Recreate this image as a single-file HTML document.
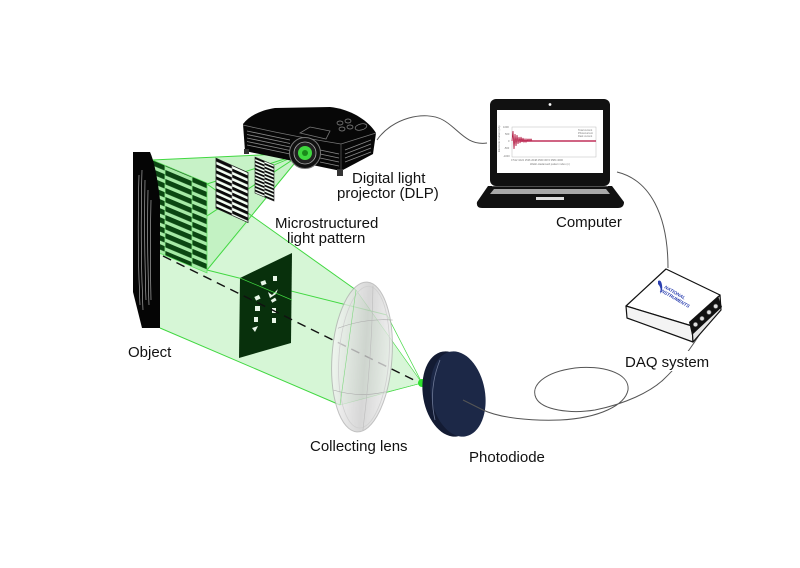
<!DOCTYPE html>
<html><head><meta charset="utf-8">
<style>
html,body{margin:0;padding:0;background:#fff;}
svg{display:block;}
text{font-family:"Liberation Sans",Arial,sans-serif;fill:#111;}
</style></head><body>
<svg width="800" height="568" viewBox="0 0 800 568" xmlns="http://www.w3.org/2000/svg">
<defs>
 <linearGradient id="lensg" x1="0" y1="0" x2="1" y2="0">
  <stop offset="0" stop-color="#f6f6f6"/>
  <stop offset="0.55" stop-color="#cccccc"/>
  <stop offset="1" stop-color="#eeeeee"/>
 </linearGradient>
 <pattern id="pg1" width="40" height="9" patternUnits="userSpaceOnUse" y="96">
  <rect width="40" height="9" fill="#a6eaa6"/><rect width="40" height="5.4" fill="#0b4612"/>
 </pattern>
 <pattern id="pg2" width="40" height="9" patternUnits="userSpaceOnUse" y="100.5">
  <rect width="40" height="9" fill="#a6eaa6"/><rect width="40" height="5.4" fill="#0b4612"/>
 </pattern>
 <pattern id="pb1" width="40" height="6" patternUnits="userSpaceOnUse" y="61">
  <rect width="40" height="6" fill="#f4fff4"/><rect width="40" height="3.2" fill="#0a0a0a"/>
 </pattern>
 <pattern id="pb2" width="40" height="6" patternUnits="userSpaceOnUse" y="64">
  <rect width="40" height="6" fill="#f4fff4"/><rect width="40" height="3.2" fill="#0a0a0a"/>
 </pattern>
 <pattern id="ps1" width="40" height="3.6" patternUnits="userSpaceOnUse" y="50">
  <rect width="40" height="3.6" fill="#f4fff4"/><rect width="40" height="1.9" fill="#0a0a0a"/>
 </pattern>
 <pattern id="ps2" width="40" height="3.6" patternUnits="userSpaceOnUse" y="51.8">
  <rect width="40" height="3.6" fill="#f4fff4"/><rect width="40" height="1.9" fill="#0a0a0a"/>
 </pattern>
</defs>

<!-- collected light cone: object to lens -->
<polygon points="152,160 207,184 356,290 340,405 160,328 152,250" fill="#d6f6d6"/>
<!-- cone after lens -->
<polygon points="356,290 422,383 340,405" fill="#c8f2c8" opacity="0.7"/>
<!-- projection frustum -->
<polygon points="303,153 152,160 152,252 207,270" fill="#b4eeb4" opacity="0.75"/>
<polygon points="207,184 248,172 248,223 207,270" fill="#c6f3c6" opacity="0.6"/>

<!-- frustum/cone edge lines -->
<g stroke="#41d841" stroke-width="1" fill="none">
 <line x1="303" y1="153" x2="152" y2="160"/>
 <line x1="303" y1="153" x2="207" y2="184"/>
 <line x1="303" y1="153" x2="207" y2="270"/>
 <line x1="303" y1="153" x2="152" y2="252"/>
 <line x1="207" y1="184" x2="356" y2="290"/>
 <line x1="160" y1="328" x2="340" y2="405"/>
 <line x1="207" y1="270" x2="387" y2="315"/>
 <line x1="387" y1="315" x2="422" y2="383" stroke-width="0.7"/>
 <line x1="356" y1="290" x2="422" y2="383" stroke-width="0.6"/>
 <line x1="340" y1="405" x2="422" y2="383" stroke-width="0.6"/>
 <line x1="387" y1="392" x2="422" y2="383" stroke-width="0.6"/>
</g>

<!-- big pattern -->
<g transform="matrix(1,0.42,0,1,0,0)">
 <rect x="152" y="96" width="13" height="90" fill="url(#pg1)"/>
 <rect x="165" y="96" width="27" height="90" fill="url(#pg2)"/>
 <rect x="192" y="96" width="15" height="90" fill="url(#pg1)"/>
 <rect x="152" y="96" width="55" height="90" fill="none" stroke="#5fe05f" stroke-width="0.8"/>
 <line x1="165" y1="96" x2="165" y2="186" stroke="#8ff08f" stroke-width="0.8"/>
 <line x1="192" y1="96" x2="192" y2="186" stroke="#8ff08f" stroke-width="0.8"/>
</g>
<!-- mid pattern -->
<g transform="matrix(1,0.45,0,1,0,0)">
 <rect x="216" y="61" width="16" height="50" fill="url(#pb1)"/>
 <rect x="232" y="61" width="16" height="50" fill="url(#pb2)"/>
 <rect x="216" y="61" width="32" height="50" fill="none" stroke="#222" stroke-width="0.8"/>
 <line x1="232" y1="61" x2="232" y2="111" stroke="#bbb" stroke-width="0.6"/>
</g>
<!-- small pattern -->
<g transform="matrix(1,0.42,0,1,0,0)">
 <rect x="255" y="50" width="9.5" height="36" fill="url(#ps1)"/>
 <rect x="264.5" y="50" width="9.5" height="36" fill="url(#ps2)"/>
 <rect x="255" y="50" width="19" height="36" fill="none" stroke="#222" stroke-width="0.6"/>
</g>
<line x1="303" y1="153" x2="274" y2="165" stroke="#41d841" stroke-width="0.8"/>

<!-- mask -->
<polygon points="240,278 292,253 291,343 239,358" fill="#08300c"/>
<g fill="#e8f5e8">
 <rect x="261" y="281" width="5" height="4" transform="rotate(-20 263 283)"/>
 <rect x="273" y="276" width="4" height="5"/>
 <path d="M268,292 l4,3 l6,-6 l-2,5 l-6,4 z"/>
 <rect x="255" y="296" width="5" height="4" transform="rotate(-25 257 298)"/>
 <rect x="271" y="299" width="5" height="3" transform="rotate(-30 273 300)"/>
 <rect x="255" y="306" width="5" height="5"/>
 <rect x="272" y="308" width="4" height="5"/>
 <rect x="254" y="317" width="4" height="5"/>
 <rect x="272" y="318" width="4" height="5"/>
 <path d="M252,328 l6,-2 l-3,6 z"/>
</g>
<line x1="240" y1="278" x2="292" y2="300" stroke="#41d841" stroke-width="0.7"/>

<!-- optical axis -->
<line x1="163" y1="256" x2="420" y2="383" stroke="#111" stroke-width="1.4" stroke-dasharray="9 6"/>

<!-- lens -->
<g transform="rotate(4 362 357)">
 <ellipse cx="362" cy="357" rx="30" ry="75" fill="url(#lensg)" opacity="0.78" stroke="#b0b0b0" stroke-width="1"/>
 <ellipse cx="364" cy="357" rx="25" ry="71" fill="none" stroke="#d0d0d0" stroke-width="0.8"/>
 <path d="M336,330 Q362,318 390,318" fill="none" stroke="#aaa" stroke-width="0.6"/>
 <path d="M336,392 Q362,398 388,390" fill="none" stroke="#aaa" stroke-width="0.6"/>
 <path d="M368,285 Q372,357 368,430" fill="none" stroke="#bbb" stroke-width="0.6"/>
</g>
<line x1="356" y1="290" x2="340" y2="405" stroke="#7fd87f" stroke-width="0.6"/>

<!-- photodiode -->
<circle cx="422" cy="383" r="4" fill="#2ee02e"/>
<ellipse cx="450" cy="394" rx="27" ry="43" transform="rotate(-10 450 394)" fill="#131b33"/>
<ellipse cx="458" cy="394" rx="27" ry="43" transform="rotate(-10 458 394)" fill="#1c2847"/>
<path d="M435,420 Q428,390 440,360" fill="none" stroke="#6d7896" stroke-width="0.8"/>

<!-- object -->
<path d="M133,152 L150,152 Q156,165 160,200 L160,328 L142,328 L133,292 Z" fill="#050505"/>
<g stroke="#fff" stroke-width="0.6" fill="none" opacity="0.75">
 <path d="M139,175 Q137,240 140,305"/>
 <path d="M142,170 Q140,240 143,310"/>
 <path d="M145,180 Q144,245 146,300"/>
 <path d="M148,190 Q147,250 149,305"/>
 <path d="M151,200 Q150,250 151,300"/>
</g>

<!-- projector -->
<path d="M243,124 C250,115 262,110 275,108 L330,107 C350,109 368,120 376,133 L373,154 L341,171 L245,151 Z" fill="#070707"/>
<path d="M243,125 Q290,136 341,144 L376,133" fill="none" stroke="#777" stroke-width="0.8"/>
<line x1="341" y1="144" x2="341" y2="171" stroke="#555" stroke-width="0.8"/>
<g stroke="#8a8a8a" stroke-width="0.8">
 <line x1="247" y1="131" x2="290" y2="140"/>
 <line x1="247" y1="134.5" x2="290" y2="143.5"/>
 <line x1="247" y1="138" x2="290" y2="147"/>
 <line x1="247" y1="141.5" x2="290" y2="150.5"/>
 <line x1="247" y1="145" x2="290" y2="154"/>
 <line x1="320" y1="150" x2="339" y2="154"/>
 <line x1="320" y1="154" x2="339" y2="158"/>
 <line x1="320" y1="158" x2="339" y2="162"/>
 <line x1="320" y1="162" x2="339" y2="166"/>
 <line x1="345" y1="150" x2="371" y2="140"/>
 <line x1="345" y1="154" x2="371" y2="144"/>
 <line x1="345" y1="158" x2="371" y2="148"/>
 <line x1="345" y1="162" x2="371" y2="152"/>
</g>
<polygon points="300,133 310,127 330,131 326,139" fill="none" stroke="#777" stroke-width="0.8"/>
<g fill="none" stroke="#888" stroke-width="0.7">
 <ellipse cx="340" cy="123" rx="3" ry="2"/>
 <ellipse cx="348" cy="121" rx="3" ry="2"/>
 <ellipse cx="342" cy="129" rx="3" ry="2"/>
 <ellipse cx="350" cy="127" rx="3" ry="2"/>
 <ellipse cx="361" cy="127" rx="6" ry="3" transform="rotate(-15 361 127)"/>
</g>
<rect x="244" y="149" width="5" height="5" fill="#333"/>
<rect x="337" y="169" width="6" height="7" fill="#333"/>
<circle cx="305" cy="153" r="15.5" fill="#111" stroke="#777" stroke-width="1"/>
<circle cx="305" cy="153" r="11" fill="#222" stroke="#aaa" stroke-width="0.8"/>
<circle cx="305" cy="153" r="7" fill="#3fd83f"/>
<circle cx="305" cy="153" r="3" fill="#1a8a1a"/>

<!-- cables -->
<g fill="none" stroke="#555" stroke-width="1">
 <path d="M377,140 C392,118 425,110 443,120 C458,128 466,146 487,143"/>
 <path d="M617,172 C650,180 668,215 668,268"/>
 <path d="M463,400 L483,410 C500,418 530,421 560,420 C600,418 625,405 628,390 C630,372 600,365 575,368 C545,372 530,385 536,398 C542,410 570,414 595,410 C625,404 650,392 663,380 C678,366 690,350 705,326"/>
</g>

<!-- laptop -->
<rect x="490" y="99" width="120" height="87" rx="6" fill="#111"/>
<rect x="497" y="110" width="106" height="63" fill="#fff"/>
<circle cx="550" cy="104.5" r="1.4" fill="#fff"/>
<path d="M488,186 L612,186 L624,202 Q624,208 618,208 L482,208 Q476,208 477,202 Z" fill="#111"/>
<line x1="492" y1="186.5" x2="608" y2="186.5" stroke="#666" stroke-width="0.8"/>
<polygon points="494,189 606,189 610,194 490,194" fill="#a8a8a8"/>
<rect x="536" y="197" width="28" height="3" fill="#ddd"/>
<!-- chart -->
<rect x="512" y="127" width="84" height="30" fill="none" stroke="#bbb" stroke-width="0.5"/>
<path d="M512,141 l1,-10 l1,18 l1,-15 l1,12 l1,-11 l1,9 l1,-7 l1,6 l1,-6 l1,5 l1,-4 l1,4 l1,-3 l1,3 l1,-3 l1,2 l1,-2 l1,2 l1,-2 l1,2" fill="none" stroke="#b0103a" stroke-width="0.8"/>
<line x1="520" y1="141" x2="596" y2="141" stroke="#c0305a" stroke-width="1.6"/>
<g font-size="2.6" style="fill:#777">
 <text x="503" y="128" style="fill:#777">1000</text>
 <text x="505" y="135" style="fill:#777">500</text>
 <text x="508" y="142" style="fill:#777">0</text>
 <text x="504" y="149" style="fill:#777">-500</text>
 <text x="503" y="157" style="fill:#777">-1000</text>
 <text x="511" y="161" style="fill:#777">0    512    1024    1536    2048    2560    3072    3584    4096</text>
 <text x="530" y="165" style="fill:#777">Walsh-Hadamard pattern index (n)</text>
 <text x="578" y="131" style="fill:#777">Total current</text>
 <text x="578" y="134" style="fill:#777">Photocurrent</text>
 <text x="578" y="137" style="fill:#777">Dark current</text>
</g>
<text x="500" y="152" font-size="2.6" transform="rotate(-90 500 152)" style="fill:#777">Electronic Current (nA)</text>

<!-- DAQ -->
<polygon points="626,306 666,269 720,295 692,326" fill="#fff" stroke="#111" stroke-width="1.2" stroke-linejoin="round"/>
<polygon points="626,306 692,326 693,342 627,318" fill="#f3f3f3" stroke="#111" stroke-width="1.2" stroke-linejoin="round"/>
<polygon points="692,326 720,295 721,310 693,342" fill="#e6e6e6" stroke="#111" stroke-width="1.2" stroke-linejoin="round"/>
<polygon points="689,322 718,296 722,307 692,335" fill="#111"/>
<g fill="#ddd" stroke="#555" stroke-width="0.6">
 <circle cx="695.5" cy="324.5" r="2.2"/>
 <circle cx="702" cy="318.5" r="2.2"/>
 <circle cx="709" cy="312.3" r="2.2"/>
 <circle cx="715.7" cy="306.3" r="2.2"/>
</g>
<path d="M658,281 q3,-2 4,4 q1,5 -2,9 q2,-6 -2,-10 z" fill="#2a3fb0"/>
<g transform="rotate(30 664 288)">
 <text x="664" y="288" font-size="4.6" font-weight="bold" font-style="italic" style="fill:#2a3fb0">NATIONAL</text>
 <text x="662" y="293" font-size="4.6" font-weight="bold" font-style="italic" style="fill:#2a3fb0">INSTRUMENTS</text>
</g>

<!-- labels -->
<rect x="622" y="351" width="90" height="20" fill="#fff"/>
<g font-size="15">
 <text x="352" y="183">Digital light</text>
 <text x="337" y="198">projector (DLP)</text>
 <text x="275" y="228">Microstructured</text>
 <text x="287" y="243">light pattern</text>
 <text x="128" y="357">Object</text>
 <text x="310" y="451">Collecting lens</text>
 <text x="469" y="462">Photodiode</text>
 <text x="556" y="227">Computer</text>
 <text x="625" y="367">DAQ system</text>
</g>
</svg>
</body></html>
